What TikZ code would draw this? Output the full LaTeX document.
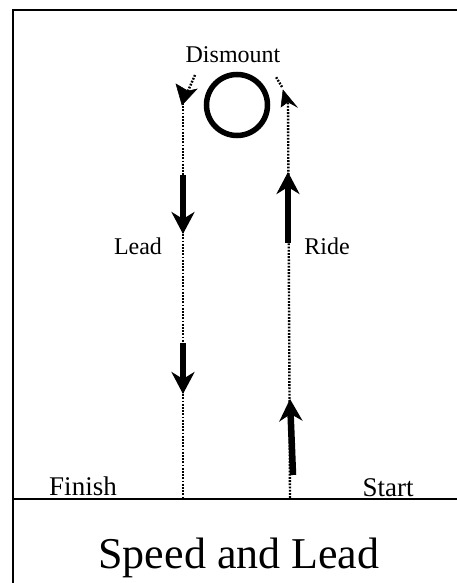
\documentclass[tikz,border=0pt]{standalone}
\usepackage{fontspec}
\setmainfont{Liberation Serif}
\usetikzlibrary{arrows.meta}
\begin{document}
\begin{tikzpicture}[x=1pt,y=-1pt,
  frameline/.style={line width=2pt, line cap=rect},
  dotline/.style={line width=2.4pt, dash pattern=on 1.8pt off 1.4pt},
  bigarrow/.style={line width=6.5pt,-{Stealth[length=22pt,width=23pt,inset=7pt]}},
  headfill/.style={fill=black, draw=black, line width=0.5pt, line join=miter},
  lbl/.style={font=\fontsize{24}{28}\selectfont, inner sep=0pt, anchor=base},
  ttl/.style={font=\fontsize{44}{50}\selectfont, inner sep=0pt, anchor=base}]
\useasboundingbox (0,0) rectangle (457,583);
% frame
\coordinate (fbl) at (13,583);
\coordinate (ftl) at (13,10);
\coordinate (ftr) at (457,10);
\coordinate (hl) at (13,499);
\coordinate (hr) at (457,499);
\draw[frameline] (fbl) -- (ftl) -- (ftr);
\draw[frameline] (hl) -- (hr);
% circle
\node[circle, draw, line width=5.5pt, minimum size=61pt, inner sep=0pt] (circ) at (237,105) {};
% texts
\node[lbl, font=\fontsize{24}{28}\selectfont] (dis) at (233,63) {Dismount};
\node[lbl] (lead) at (138,254) {Lead};
\node[lbl] (ride) at (327,254) {Ride};
\node[lbl, font=\fontsize{27}{30}\selectfont] (fin) at (83,495) {Finish};
\node[lbl, font=\fontsize{27}{30}\selectfont] (sta) at (388,496) {Start};
\node[ttl] (title) at (239,568) {Speed and Lead};
% dotted paths
\coordinate (lb) at (183,498);
\coordinate (lt) at (182,105);
\coordinate (ln) at (188,91);
\coordinate (lc) at (195,75);
\coordinate (rb) at (290,498);
\coordinate (rn) at (288,102);
\coordinate (rt) at (283,90);
\coordinate (rc) at (276,77);
\draw[dotline] (183,103) -- (lb);
\draw[dotline] (lc) -- (ln);
\draw[dotline] (rb) -- (rn);
\draw[dotline] (282,87) -- (rc);
% small arrowheads
\fill[headfill] (lt) -- (176,84) -- (ln) -- (197,89) -- cycle;
\fill[headfill] (rt) -- (281,107) -- (rn) -- (297,107) -- cycle;
% thick arrows
\coordinate (a1s) at (183,175);
\coordinate (a1e) at (183,234);
\coordinate (a2s) at (183,343);
\coordinate (a2e) at (183,394);
\coordinate (a3s) at (288,243);
\coordinate (a3e) at (288,172);
\coordinate (a4s) at (293,475);
\coordinate (a4e) at (290,399);
\draw[bigarrow] (a1s) -- (a1e);
\draw[bigarrow] (a2s) -- (a2e);
\draw[bigarrow] (a3s) -- (a3e);
\draw[bigarrow] (a4s) -- (a4e);
\end{tikzpicture}
\end{document}
